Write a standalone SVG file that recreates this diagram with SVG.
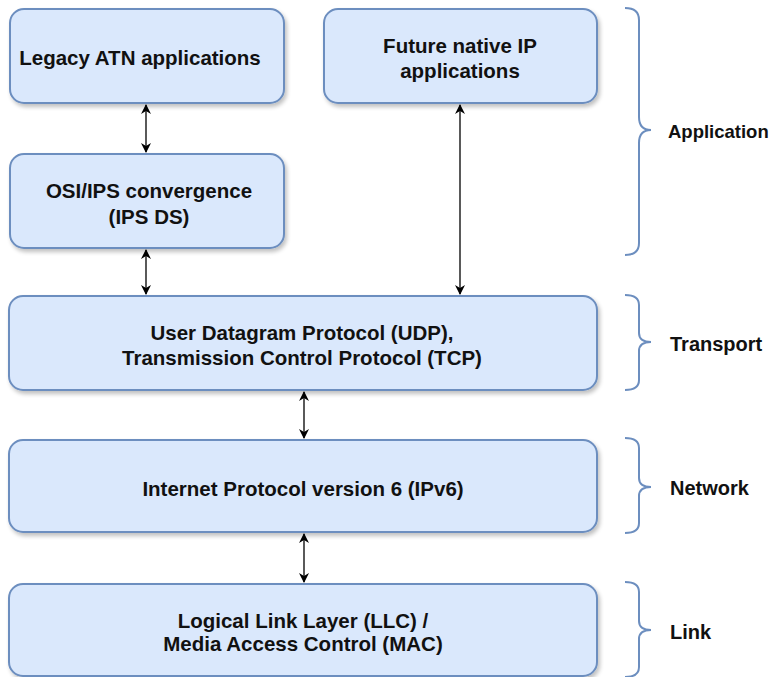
<svg xmlns="http://www.w3.org/2000/svg" width="774" height="677" viewBox="0 0 774 677">
  <style>
    .box { fill: #dae8fc; stroke: #6c8ebf; stroke-width: 2; filter: url(#shadow); }
    .label { font-family: "Liberation Sans", Arial, sans-serif; font-weight: bold; font-size: 20.5px; fill: #111; text-anchor: middle; dominant-baseline: central; }
    .layer { font-family: "Liberation Sans", Arial, sans-serif; font-weight: bold; font-size: 20px; fill: #111; dominant-baseline: central; }
    .link { stroke: #000; stroke-width: 1.3; fill: none; marker-start: url(#head); marker-end: url(#head); }
    .brace { stroke: #6c8ebf; stroke-width: 2; fill: none; }
  </style>
  <defs>
    <filter id="shadow" x="-10%" y="-10%" width="120%" height="130%">
      <feGaussianBlur in="SourceAlpha" stdDeviation="2"/>
      <feOffset dx="2" dy="3" result="b"/>
      <feComponentTransfer><feFuncA type="linear" slope="0.25"/></feComponentTransfer>
      <feMerge><feMergeNode/><feMergeNode in="SourceGraphic"/></feMerge>
    </filter>
    <marker id="head" viewBox="0 0 10 10" refX="9" refY="5" markerWidth="10" markerHeight="10" markerUnits="userSpaceOnUse" orient="auto-start-reverse">
      <path d="M0,0 L10,5 L0,10 L3,5 Z" fill="#000"/>
    </marker>
  </defs>
  <rect width="774" height="677" fill="#fff"/>

  <g id="legacy-atn">
    <rect class="box" x="10" y="9" width="274" height="94" rx="14"/>
    <text class="label" x="140" y="57">Legacy ATN applications</text>
  </g>
  <g id="future-ip">
    <rect class="box" x="324" y="9" width="273" height="94" rx="14"/>
    <text class="label" x="460" y="45">Future native IP</text>
    <text class="label" x="460" y="70">applications</text>
  </g>
  <g id="osi-ips">
    <rect class="box" x="10" y="154" width="274" height="94" rx="14"/>
    <text class="label" x="149" y="190">OSI/IPS convergence</text>
    <text class="label" x="149" y="216">(IPS DS)</text>
  </g>
  <g id="transport">
    <rect class="box" x="9" y="296" width="588" height="94" rx="14"/>
    <text class="label" x="302" y="332">User Datagram Protocol (UDP),</text>
    <text class="label" x="302" y="357">Transmission Control Protocol (TCP)</text>
  </g>
  <g id="network">
    <rect class="box" x="9" y="440" width="588" height="92" rx="14"/>
    <text class="label" x="303" y="488">Internet Protocol version 6 (IPv6)</text>
  </g>
  <g id="link">
    <rect class="box" x="9" y="584" width="588" height="92" rx="14"/>
    <text class="label" x="303" y="620">Logical Link Layer (LLC) /</text>
    <text class="label" x="303" y="643">Media Access Control (MAC)</text>
  </g>

  <g id="connectors">
    <line class="link" x1="146" y1="105" x2="146" y2="152"/>
    <line class="link" x1="146" y1="250" x2="146" y2="294"/>
    <line class="link" x1="460" y1="105" x2="460" y2="294"/>
    <line class="link" x1="304" y1="392" x2="304" y2="438"/>
    <line class="link" x1="304" y1="534" x2="304" y2="582"/>
  </g>

  <g id="layers">
    <path class="brace" d="M625,8 Q639,8 639,20 L639,117 Q639,130 651,130 Q639,130 639,143 L639,243 Q639,255 625,255"/>
    <text class="layer" x="668" y="131" style="font-size:18.5px">Application</text>
    <path class="brace" d="M625,295 Q639,295 639,305 L639,333 Q639,342 651,342 Q639,342 639,351 L639,380 Q639,390 625,390"/>
    <text class="layer" x="670" y="344">Transport</text>
    <path class="brace" d="M625,438 Q639,438 639,448 L639,478 Q639,487 651,487 Q639,487 639,496 L639,523 Q639,533 625,533"/>
    <text class="layer" x="670" y="488">Network</text>
    <path class="brace" d="M625,582 Q639,582 639,592 L639,621 Q639,630 651,630 Q639,630 639,639 L639,667 Q639,677 625,677"/>
    <text class="layer" x="670" y="632">Link</text>
  </g>
</svg>
